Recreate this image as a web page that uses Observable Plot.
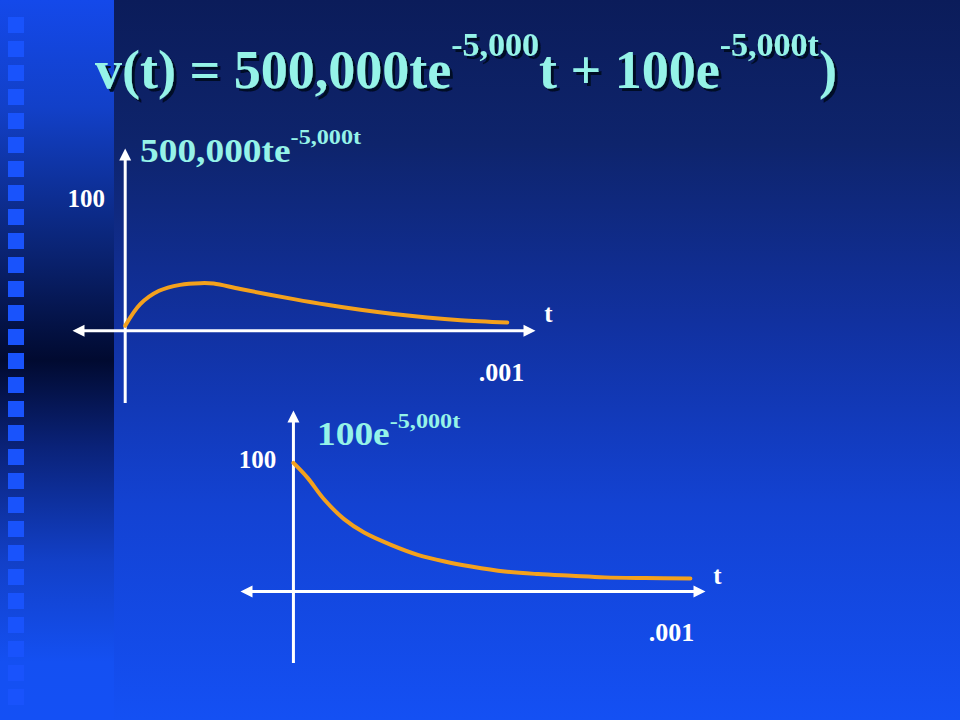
<!DOCTYPE html>
<html>
<head>
<meta charset="utf-8">
<script src="https://cdn.jsdelivr.net/npm/d3@7"></script>
<script src="https://cdn.jsdelivr.net/npm/@observablehq/plot@0.6"></script>
<style>
  html, body { margin: 0; padding: 0; }
  body { width: 960px; height: 720px; overflow: hidden; }
  #slide {
    position: relative; width: 960px; height: 720px; overflow: hidden;
    background: linear-gradient(to bottom, #0b1c5a 0%, #0e246c 20%, #1131a0 45%, #1342d2 70%, #1450f4 100%);
    font-family: "Liberation Serif", "Times New Roman", serif;
  }
  #strip {
    position: absolute; left: 0; top: 0; width: 114px; height: 720px;
    background: linear-gradient(to bottom, #1449ea 0%, #1240c8 15%, #0a2372 35%, #010a30 50%, #0a2278 62%, #1240c8 78%, #1450f2 92%, #1450f5 100%);
  }
  #squares {
    position: absolute; left: 8px; top: 17px; width: 16px; height: 688px;
    background: repeating-linear-gradient(to bottom, #1953fc 0px, #1953fc 16px, transparent 16px, transparent 24px);
  }
  .plot { position: absolute; }
  #overlay { position: absolute; left: 0; top: 0; pointer-events: none; }
</style>
</head>
<body>
<div id="slide">
  <div id="strip"></div>
  <div id="squares"></div>
  <div id="p1" class="plot" style="left:60px; top:130px;"></div>
  <div id="p2" class="plot" style="left:230px; top:400px;"></div>
  <svg id="overlay" width="960" height="720"></svg>
</div>
<script>
// ---- data ----
// Plot 1: 500,000 t e^(-5,000t)
const t1 = [0, 0.00004, 0.00009, 0.000146, 0.0002, 0.000235, 0.000306, 0.000448, 0.000536, 0.000625, 0.000713, 0.000802, 0.000891, 0.001015];
const v1 = [3.8, 20.2, 30.3, 34.8, 36.1, 35.8, 31.6, 24.0, 19.7, 15.9, 12.7, 10.1, 8.1, 6.3];
// Plot 2: 100 e^(-5,000t)
const t2 = [0, 0.000037, 0.000081, 0.000134, 0.000187, 0.000258, 0.000329, 0.0004, 0.00047, 0.000559, 0.000647, 0.000736, 0.000824, 0.00093, 0.00105];
const v2 = [98, 86.8, 70.3, 55.1, 44.9, 35.5, 27.9, 22.8, 19.0, 15.2, 13.2, 11.9, 10.7, 10.2, 9.9];
// axis ticks
const yTickValues = [100];
const yTickLabels = ["100"];
const xTickValues = [0.001];
const xTickLabels = [".001"];
const xAxisName = "t";
// axis extents (arrow tips)
const xDomain = [-0.00014, 0.00109];
const yDomain = [-55, 138];

const curveColor = "#f4a11d";
const axisColor = "#ffffff";
const L = 12, W = 6;
const headRight = {draw(c) { c.moveTo(0, 0); c.lineTo(-L, -W); c.lineTo(-L, W); c.closePath(); }};
const headLeft  = {draw(c) { c.moveTo(0, 0); c.lineTo(L, -W); c.lineTo(L, W); c.closePath(); }};
const headUp    = {draw(c) { c.moveTo(0, 0); c.lineTo(-W, L); c.lineTo(W, L); c.closePath(); }};

function chart(opts) {
  const data = opts.t.map((t, i) => ({t, v: opts.v[i]}));
  const font = {fontFamily: "Liberation Serif, Times New Roman, serif", fontWeight: "bold", fill: "white"};
  return Plot.plot({
    width: opts.width, height: opts.height,
    marginLeft: opts.ml, marginRight: opts.mr, marginTop: opts.mt, marginBottom: opts.mb,
    x: {domain: xDomain, axis: null},
    y: {domain: yDomain, axis: null},
    style: {background: "transparent", overflow: "visible"},
    marks: [
      Plot.ruleY([0], {stroke: axisColor, strokeWidth: 3, insetLeft: 8, insetRight: 8}),
      Plot.ruleX([0], {stroke: axisColor, strokeWidth: 3, insetTop: 8}),
      Plot.dot([0], {x: xDomain[1], y: 0, symbol: headRight, fill: axisColor, stroke: "none"}),
      Plot.dot([0], {x: xDomain[0], y: 0, symbol: headLeft, fill: axisColor, stroke: "none"}),
      Plot.dot([0], {x: 0, y: yDomain[1], symbol: headUp, fill: axisColor, stroke: "none"}),
      Plot.line(data, {x: "t", y: "v", stroke: curveColor, strokeWidth: 4, curve: "catmull-rom"}),
      Plot.text(yTickValues, {x: 0, y: d => d, text: (d, i) => yTickLabels[i], dx: opts.ydx, fontSize: 25, ...font}),
      Plot.text(xTickValues, {x: d => d, y: 0, text: (d, i) => xTickLabels[i], dy: opts.xdy, fontSize: 26, ...font}),
      Plot.text([xAxisName], {x: xDomain[1], y: 0, text: d => d, dx: opts.tdx, dy: opts.tdy, fontSize: 25, ...font})
    ]
  });
}

document.getElementById("p1").append(chart({t: t1, v: v1, width: 490, height: 285, ml: 12, mr: 15, mt: 18, mb: 12, ydx: -39, xdy: 42, tdx: 13, tdy: -17}));
document.getElementById("p2").append(chart({t: t2, v: v2, width: 490, height: 275, ml: 10, mr: 15, mt: 10, mb: 12, ydx: -36, xdy: 41, tdx: 12, tdy: -15}));

// ---- title and curve labels ----
const titleColor = "#95f3e8";
const ov = document.getElementById("overlay");
const fam = "Liberation Serif, Times New Roman, serif";
const label = (x, y, main, sup, supDy) => `
  <text transform="translate(${x},${y}) scale(1.1,1)" font-family="${fam}" font-weight="bold" font-size="34" fill="${titleColor}">${main}<tspan font-size="22" dy="${supDy}">${sup}</tspan></text>`;
ov.innerHTML = `
  <defs><filter id="sh" x="-5%" y="-20%" width="115%" height="150%">
    <feDropShadow dx="3" dy="3" stdDeviation="0.6" flood-color="#020a26" flood-opacity="1"/>
  </filter></defs>
  <text x="95" y="88" filter="url(#sh)" font-family="${fam}" font-weight="bold" font-size="54" fill="${titleColor}">v(t) = 500,000te<tspan font-size="34" dy="-32">-5,000</tspan><tspan font-size="54" dy="32">t + 100e</tspan><tspan font-size="34" dy="-32">-5,000t</tspan><tspan font-size="54" dy="32">)</tspan></text>` +
  label(140, 162, "500,000te", "-5,000t", -18) +
  label(317, 445, "100e", "-5,000t", -17);
</script>
</body>
</html>
